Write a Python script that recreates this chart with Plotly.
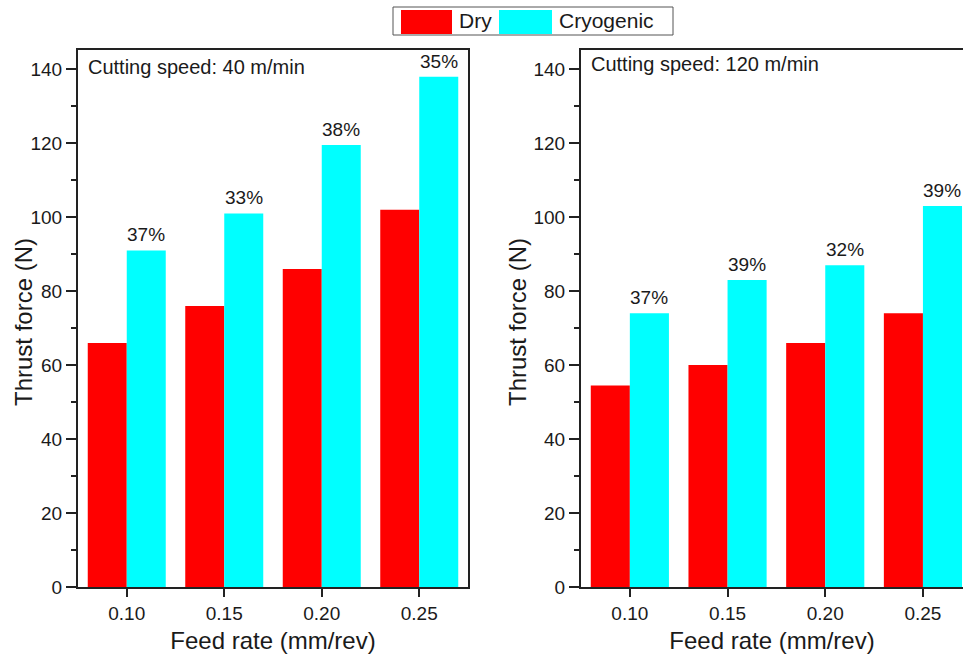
import plotly.graph_objects as go

feed = [0.10, 0.15, 0.20, 0.25]
feed_labels = ["0.10", "0.15", "0.20", "0.25"]
dry_40 = [66, 76, 86, 102]
cryo_40 = [91, 101, 119.5, 138]
pct_40 = ["37%", "33%", "38%", "35%"]
dry_120 = [54.5, 60, 66, 74]
cryo_120 = [74, 83, 87, 103]
pct_120 = ["37%", "39%", "32%", "39%"]

W, H = 963, 657
FONT = "Liberation Sans, Arial, sans-serif"
TXT = "#1a1a1a"
RED = "#FF0000"
CYAN = "#00FFFF"

fig = go.Figure()
for dry, cryo, xa, ya in [(dry_40, cryo_40, "x", "y"), (dry_120, cryo_120, "x2", "y2")]:
    fig.add_trace(go.Bar(x=feed, y=dry, name="Dry", marker=dict(color=RED, line=dict(width=0)),
                         xaxis=xa, yaxis=ya, showlegend=False))
    fig.add_trace(go.Bar(x=feed, y=cryo, name="Cryogenic", marker=dict(color=CYAN, line=dict(width=0)),
                         xaxis=xa, yaxis=ya, showlegend=False))

def xax(domain, rng, mirror):
    return dict(domain=domain, range=rng, tickvals=feed, ticktext=feed_labels,
                ticks="outside", ticklen=8, tickwidth=1.5, tickcolor="#222",
                showline=True, linecolor="#222", linewidth=2, mirror=mirror,
                showgrid=False, zeroline=False,
                tickfont=dict(family=FONT, size=19, color=TXT),
                title=dict(text="Feed rate (mm/rev)", font=dict(family=FONT, size=24, color=TXT), standoff=9))

def yax(mirror, anchor):
    return dict(domain=[0, 1], range=[0, 145.2], dtick=20, tick0=0,
                ticks="outside", ticklen=10, tickwidth=1.5, tickcolor="#222",
                minor=dict(dtick=10, ticks="outside", ticklen=5, tickwidth=1.5, tickcolor="#222", showgrid=False),
                showline=True, linecolor="#222", linewidth=2, mirror=mirror,
                showgrid=False, zeroline=False, anchor=anchor,
                tickfont=dict(family=FONT, size=19, color=TXT))

fig.update_layout(
    width=W, height=H,
    margin=dict(l=0, r=0, t=50, b=70),
    paper_bgcolor="white", plot_bgcolor="white",
    barmode="group", bargap=0.2, bargroupgap=0,
    xaxis=xax([78 / W, 468 / W], [0.075, 0.275], True),
    yaxis=yax(True, "x"),
    xaxis2=dict(xax([581 / W, 1.0], [0.075, 0.2705], True), anchor="y2"),
    yaxis2=yax(False, "x2"),
    showlegend=False,
)

ann = []
for pcts, vals, xr, yr in [(pct_40, cryo_40, "x", "y"), (pct_120, cryo_120, "x2", "y2")]:
    for f, v, p in zip(feed, vals, pcts):
        ann.append(dict(x=f + 0.01, y=v, xref=xr, yref=yr, text=p, showarrow=False,
                        yanchor="bottom", yshift=3, font=dict(family=FONT, size=19, color=TXT)))

def py(pix):
    return (587 - pix) / 537

ann.append(dict(x=86 / W, y=py(67), xref="paper", yref="paper", text="Cutting speed: 40 m/min",
                showarrow=False, xanchor="left", yanchor="middle", font=dict(family=FONT, size=20, color=TXT)))
ann.append(dict(x=589 / W, y=py(64), xref="paper", yref="paper", text="Cutting speed: 120 m/min",
                showarrow=False, xanchor="left", yanchor="middle", font=dict(family=FONT, size=20, color=TXT)))
for xc in [23, 517]:
    ann.append(dict(x=xc / W, y=py(322), xref="paper", yref="paper", text="Thrust force (N)",
                    textangle=-90, showarrow=False, xanchor="center", yanchor="middle",
                    font=dict(family=FONT, size=24, color=TXT)))

# legend (drawn manually)
shapes = [
    dict(type="rect", xref="paper", yref="paper", x0=393 / W, x1=673 / W, y0=py(35), y1=py(7),
         line=dict(color="#555", width=1), fillcolor="white"),
    dict(type="rect", xref="paper", yref="paper", x0=401 / W, x1=452 / W, y0=py(34), y1=py(10),
         line=dict(width=0), fillcolor=RED),
    dict(type="rect", xref="paper", yref="paper", x0=499 / W, x1=552 / W, y0=py(34), y1=py(10),
         line=dict(width=0), fillcolor=CYAN),
]
ann.append(dict(x=457 / W, y=py(21), xref="paper", yref="paper", text="Dry", showarrow=False,
                xanchor="left", yanchor="middle", font=dict(family=FONT, size=21, color=TXT)))
ann.append(dict(x=557 / W, y=py(21), xref="paper", yref="paper", text="Cryogenic", showarrow=False,
                xanchor="left", yanchor="middle", font=dict(family=FONT, size=21, color=TXT)))

fig.update_layout(annotations=ann, shapes=shapes)
fig.write_html("out.html")
